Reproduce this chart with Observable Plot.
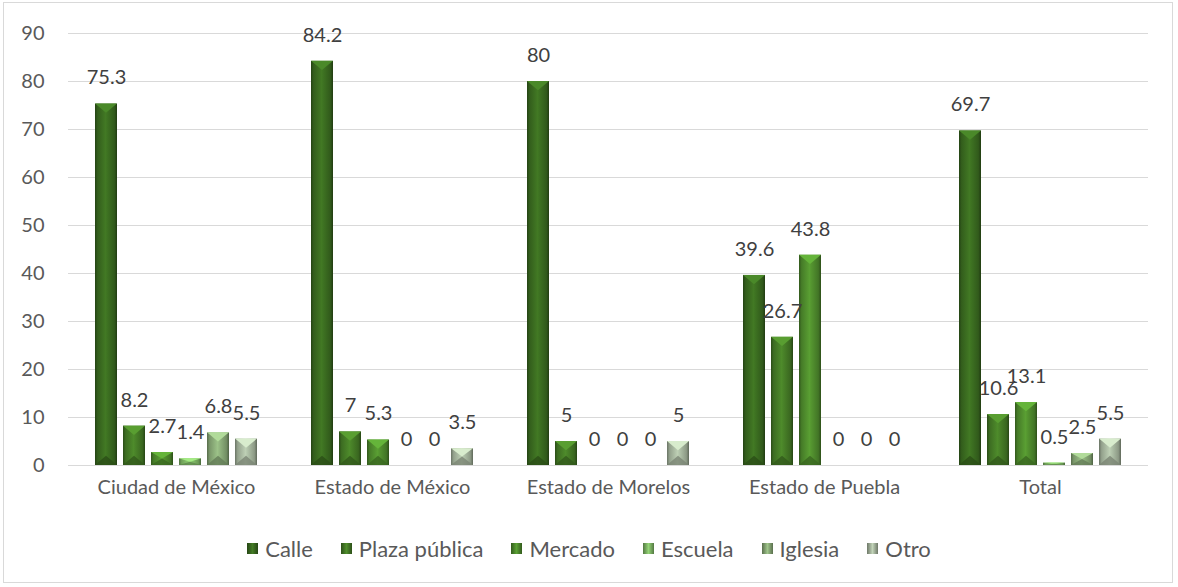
<!DOCTYPE html>
<html>
<head>
<meta charset="utf-8">
<script src="https://cdn.jsdelivr.net/npm/d3@7"></script>
<script src="https://cdn.jsdelivr.net/npm/@observablehq/plot@0.6"></script>
<style>
  body { margin: 0; background: #fff; }
  #wrap { position: relative; width: 1178px; height: 587px; font-family: Lato, sans-serif; }
  #frame { position: absolute; left: 3px; top: 2px; width: 1170px; height: 581px; border: 1px solid #d9d9d9; box-sizing: border-box; pointer-events: none; }
  #chart { position: absolute; left: 0; top: 0; }
  #legend { position: absolute; left: 0; top: 535px; width: 1178px; display: flex; justify-content: center; gap: 28px; font-size: 22px; color: #595959; }
  #legend .item { display: flex; align-items: center; gap: 7px; }
  #legend .sw { width: 11px; height: 11px; display: inline-block; }
</style>
</head>
<body>
<div id="wrap">
  <div id="chart"></div>
  <div id="legend"></div>
  <div id="frame"></div>
</div>
<script>
// Lugares: porcentaje por entidad
const categories = ["Ciudad de México", "Estado de México", "Estado de Morelos", "Estado de Puebla", "Total"];
const series = ["Calle", "Plaza pública", "Mercado", "Escuela", "Iglesia", "Otro"];
const calle   = [75.3, 84.2, 80, 39.6, 69.7];
const plaza   = [8.2, 7, 5, 26.7, 10.6];
const mercado = [2.7, 5.3, 0, 43.8, 13.1];
const escuela = [1.4, 0, 0, 0, 0.5];
const iglesia = [6.8, 0, 0, 0, 2.5];
const otro    = [5.5, 3.5, 5, 0, 5.5];
const yTicks  = [0, 10, 20, 30, 40, 50, 60, 70, 80, 90];

// base colours per series
const palette = ["#3a6b20", "#457b26", "#4f8c2d", "#80b866", "#8aab78", "#a8b8a0"];

const values = [calle, plaza, mercado, escuela, iglesia, otro];
const data = [];
categories.forEach((cat, i) => {
  series.forEach((s, j) => data.push({cat, series: s, value: values[j][i]}));
});

const gradId = i => `bevel${i}`;

const plot = Plot.plot({
  width: 1178,
  height: 500,
  marginLeft: 68,
  marginRight: 30,
  marginTop: 33,
  marginBottom: 35,
  style: {fontFamily: "Lato, sans-serif", fontSize: "20px", color: "#595959", background: "transparent"},
  fx: {domain: categories, padding: 0, label: null, tickSize: 0, tickPadding: 14, axis: "bottom"},
  x: {domain: series, paddingInner: 0.2, paddingOuter: 0.89, axis: null},
  y: {domain: [0, 90], ticks: yTicks, tickSize: 0, tickPadding: 24, label: null, axis: "left"},
  color: {domain: series, range: series.map((s, i) => `url(#${gradId(i)})`)},
  marks: [
    Plot.gridY(yTicks, {stroke: "#d9d9d9", strokeOpacity: 1, strokeWidth: 1.2}),
    Plot.barY(data, {fx: "cat", x: "series", y: "value", fill: "series"}),
    Plot.text(data, {fx: "cat", x: "series", y: "value", text: d => String(d.value), dy: -26, fill: "#404040", fontSize: 20})
  ]
});

// gradients giving each bar a bevelled look
const svg = d3.select(plot);
const defs = svg.insert("defs", ":first-child");
palette.forEach((c, i) => {
  const col = d3.color(c);
  const g = defs.append("linearGradient").attr("id", gradId(i)).attr("x1", 0).attr("x2", 1).attr("y1", 0).attr("y2", 0);
  [[0, col.darker(1.3)], [0.12, col.darker(0.35)], [0.48, col.brighter(0.35)], [0.55, col.brighter(0.2)], [0.88, col.darker(0.5)], [1, col.darker(1.6)]]
    .forEach(([o, k]) => g.append("stop").attr("offset", o).attr("stop-color", k.formatHex()));
});

// top and bottom bevel faces on every rendered bar
svg.selectAll('g[aria-label="bar"] rect').each(function () {
  const r = d3.select(this);
  const x = +r.attr("x"), y = +r.attr("y"), w = +r.attr("width"), h = +r.attr("height");
  if (!(h > 0)) return;
  const fill = r.attr("fill");
  const idx = +fill.replace(/\D/g, "");
  const col = d3.color(palette[idx]);
  const t = Math.min(w * 0.42, h / 2);
  const parent = d3.select(this.parentNode);
  parent.append("path")
    .attr("d", `M${x},${y}L${x + w},${y}L${x + w / 2},${y + t}Z`)
    .attr("fill", col.brighter(0.7).formatHex());
  parent.append("path")
    .attr("d", `M${x},${y + h}L${x + w},${y + h}L${x + w / 2},${y + h - t}Z`)
    .attr("fill", col.darker(0.9).formatHex()).attr("fill-opacity", 0.8);
});

document.getElementById("chart").appendChild(plot);

// legend
const legend = d3.select("#legend");
series.forEach((s, i) => {
  const col = d3.color(palette[i]);
  const item = legend.append("div").attr("class", "item");
  item.append("span").attr("class", "sw")
    .style("background", `linear-gradient(to right, ${col.darker(1.2).formatHex()}, ${col.brighter(0.4).formatHex()} 50%, ${col.darker(1.2).formatHex()})`);
  item.append("span").text(s);
});
</script>
</body>
</html>
